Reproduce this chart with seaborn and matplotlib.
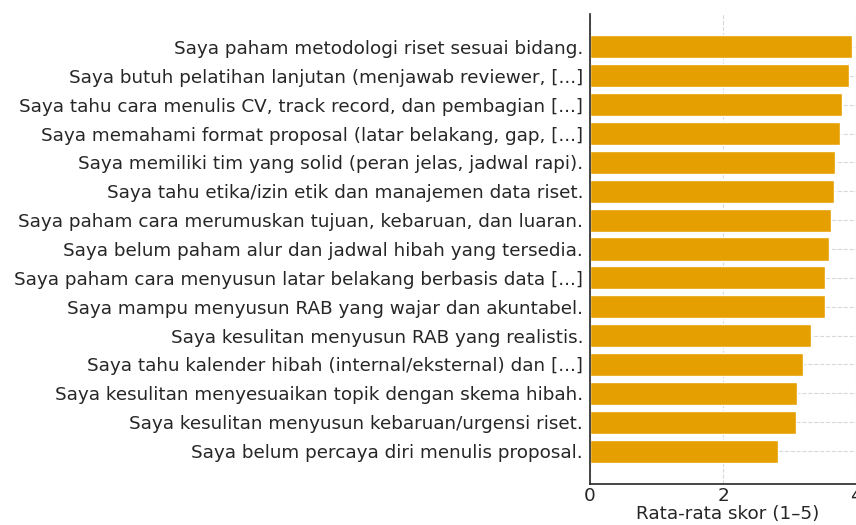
import matplotlib
matplotlib.use("Agg")
import matplotlib.pyplot as plt
import seaborn as sns
import pandas as pd

# ==========================================
# Data (mean score per statement)
# ==========================================

statements = [
    "Saya paham metodologi riset sesuai bidang.",
    "Saya butuh pelatihan lanjutan (menjawab reviewer, [...]",
    "Saya tahu cara menulis CV, track record, dan pembagian [...]",
    "Saya memahami format proposal (latar belakang, gap, [...]",
    "Saya memiliki tim yang solid (peran jelas, jadwal rapi).",
    "Saya tahu etika/izin etik dan manajemen data riset.",
    "Saya paham cara merumuskan tujuan, kebaruan, dan luaran.",
    "Saya belum paham alur dan jadwal hibah yang tersedia.",
    "Saya paham cara menyusun latar belakang berbasis data [...]",
    "Saya mampu menyusun RAB yang wajar dan akuntabel.",
    "Saya kesulitan menyusun RAB yang realistis.",
    "Saya tahu kalender hibah (internal/eksternal) dan [...]",
    "Saya kesulitan menyesuaikan topik dengan skema hibah.",
    "Saya kesulitan menyusun kebaruan/urgensi riset.",
    "Saya belum percaya diri menulis proposal.",
]
mean_scores = [3.94, 3.90, 3.79, 3.76, 3.69, 3.67, 3.63, 3.59,
               3.54, 3.54, 3.32, 3.21, 3.12, 3.10, 2.82]

df = pd.DataFrame({"Pernyataan": statements, "Skor": mean_scores})

# ==========================================
# Style
# ==========================================

sns.set_style("whitegrid", {
    "grid.color": "#d9d9d9",
    "grid.linestyle": "--",
    "axes.edgecolor": "#262626",
    "xtick.direction": "in",
    "ytick.direction": "in",
})
plt.rcParams["font.family"] = ["DejaVu Sans"]

fig = plt.figure(figsize=(8.56, 5.25), dpi=100)
ax = fig.add_axes([0.6893, 0.0781, 0.3213, 0.8952])

sns.barplot(data=df, x="Skor", y="Pernyataan", color="#E69F00",
            saturation=1, width=0.8, orient="h", ax=ax)

# matplotlib-like 5% margins around the bars
n = len(statements)
pad = 0.4 + 0.05 * (n - 1 + 0.8)
ax.set_ylim(n - 1 + pad, -pad)
ax.set_xlim(0, max(mean_scores) * 1.05)
ax.set_xticks([0, 2, 4])

ax.set_axisbelow(True)
ax.grid(True, axis="both", linestyle="--", linewidth=0.8, color="#d9d9d9")

for side in ["top", "right"]:
    ax.spines[side].set_visible(False)
for side in ["left", "bottom"]:
    ax.spines[side].set_linewidth(1.2)
    ax.spines[side].set_color("#262626")

fs = 13.25
ax.tick_params(axis="y", length=4, width=1.2, pad=5, labelsize=fs,
               colors="#262626")
ax.tick_params(axis="x", length=4, width=1.2, pad=2, labelsize=fs,
               colors="#262626")
ax.set_ylabel("")
ax.set_xlabel("Rata-rata skor (1–5)", fontsize=fs, color="#262626",
              labelpad=0)

plt.savefig("out.png", dpi=100)
plt.close()
